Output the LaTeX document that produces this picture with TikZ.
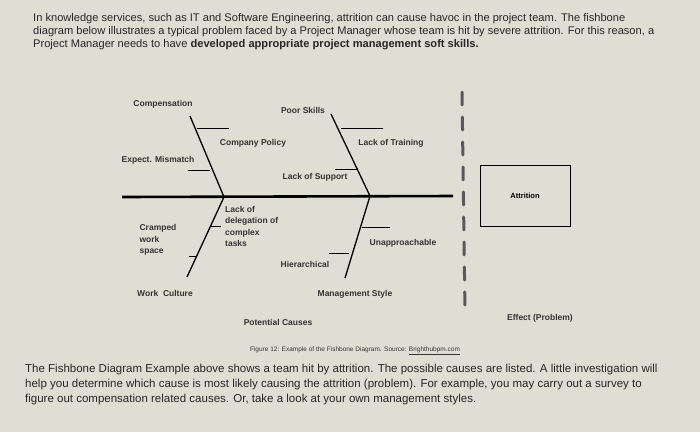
\documentclass[tikz,border=0pt]{standalone}
\usepackage{fontspec}
\setmainfont{Liberation Sans}
\begin{document}
\begin{tikzpicture}[x=1pt,y=-1pt,
  bone/.style={line width=1.3pt},
  sub/.style={line width=0.6pt},
  lbl/.style={font=\fontsize{8.5}{9.5}\selectfont\bfseries, text=black!80, inner sep=0pt},
  para/.style={font=\fontsize{11.1}{12}\selectfont, anchor=west, inner sep=0pt, text=black!85},
  para2/.style={font=\fontsize{11.5}{13}\selectfont, anchor=west, inner sep=0pt, text=black!85}]
\fill[color={rgb,255:red,222;green,222;blue,212}] (0,0) rectangle (700,432);
\useasboundingbox (0,0) rectangle (700,432);
% top paragraph
\node[para] (p1) at (33,19) {In knowledge services, such as IT and Software Engineering, attrition can cause havoc in the project team. The fishbone};
\node[para] (p2) at (33,32) {diagram below illustrates a typical problem faced by a Project Manager whose team is hit by severe attrition. For this reason, a};
\node[para] (p3) at (33,45) {Project Manager needs to have \textbf{developed appropriate project management soft skills.}};
% spine
\coordinate (s0) at (122,197);
\coordinate (j1) at (224,197);
\coordinate (j2) at (370,196);
\coordinate (s1) at (453,196);
\draw[line width=2.6pt] (s0) -- (s1);
% bones
\coordinate (t1) at (190,116);
\coordinate (t2) at (331,114);
\coordinate (b1) at (187,277);
\coordinate (b2) at (345,278);
\draw[bone] (t1) -- (j1);
\draw[bone] (t2) -- (j2);
\draw[bone] (b1) -- (j1);
\draw[bone] (b2) -- (j2);
% sub-bones
\coordinate (a1) at (197,128); \coordinate (a2) at (229,128);
\coordinate (c1) at (188,170); \coordinate (c2) at (210,170);
\coordinate (d1) at (341,128); \coordinate (d2) at (383,128);
\coordinate (e1) at (335,169); \coordinate (e2) at (358,169);
\coordinate (f1) at (189,256); \coordinate (f2) at (197,256);
\coordinate (g1) at (211,226); \coordinate (g2) at (221,226);
\coordinate (h1) at (362,227); \coordinate (h2) at (390,227);
\coordinate (k1) at (329,253); \coordinate (k2) at (349,253);
\foreach \u/\v in {a1/a2,c1/c2,d1/d2,e1/e2,f1/f2,g1/g2,h1/h2,k1/k2} \draw[sub] (\u) -- (\v);
% labels
\node[lbl] (comp) at (163,104) {Compensation};
\node[lbl] (cpol) at (253,143) {Company Policy};
\node[lbl] (expm) at (158,160) {Expect. Mismatch};
\node[lbl] (pskl) at (303,110) {Poor Skills};
\node[lbl] (ltrn) at (391,143) {Lack of Training};
\node[lbl] (lsup) at (315,177) {Lack of Support};
\node[lbl, align=left] (cramp) at (158,240) {Cramped\\[2pt]work\\[2pt]space};
\node[lbl, align=left, anchor=north west] (ldel) at (225,206) {Lack of\\[2pt]delegation of\\[2pt]complex\\[2pt]tasks};
\node[lbl] (work) at (165,293) {Work\ \ Culture};
\node[lbl] (unap) at (403,243) {Unapproachable};
\node[lbl] (hier) at (305,264) {Hierarchical};
\node[lbl] (mgmt) at (355,294) {Management Style};
\node[lbl, font=\fontsize{8.5}{9}\selectfont\bfseries] (pc) at (278,322) {Potential Causes};
% dashed separator
\coordinate (v0) at (462,92);
\coordinate (v1) at (465,312);
\draw[line width=3pt, gray!70!black, dash pattern=on 13pt off 12pt, line cap=round] (v0) -- (v1);
% effect
\node[draw, line width=0.8pt, minimum width=90pt, minimum height=61pt, inner sep=0pt, font=\fontsize{7.5}{8}\selectfont\bfseries] (attr) at (525,195.5) {Attrition};
\node[lbl, font=\fontsize{8.5}{9}\selectfont\bfseries] (eff) at (540,318) {Effect (Problem)};
% caption & bottom
\node[inner sep=0pt, font=\fontsize{6.5}{7}\selectfont, text=black!80] (cap) at (355,351) {Figure 12: Example of the Fishbone Diagram. Source: \underline{Brighthubpm.com}};
\node[para2] (q1) at (25,370) {The Fishbone Diagram Example above shows a team hit by attrition. The possible causes are listed. A little investigation will};
\node[para2] (q2) at (25,385) {help you determine which cause is most likely causing the attrition (problem). For example, you may carry out a survey to};
\node[para2] (q3) at (25,400) {figure out compensation related causes. Or, take a look at your own management styles.};
\end{tikzpicture}
\end{document}
